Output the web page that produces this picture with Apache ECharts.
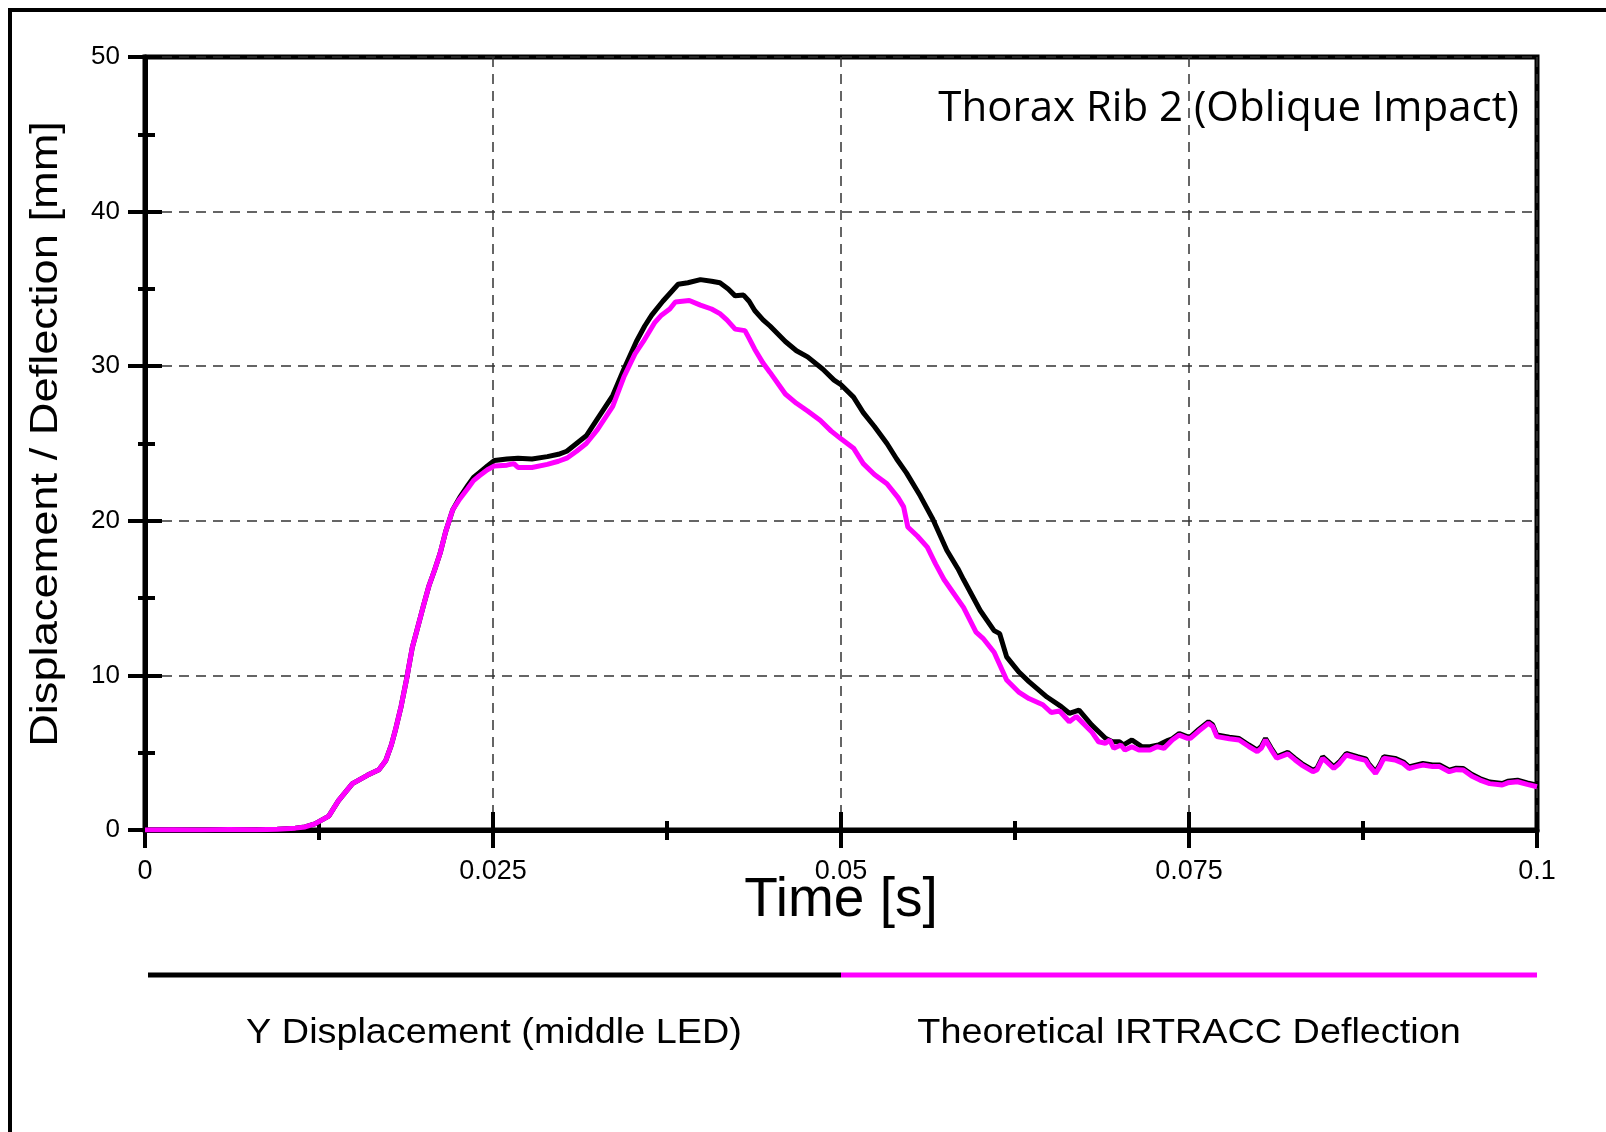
<!DOCTYPE html>
<html><head><meta charset="utf-8">
<script src="https://cdn.jsdelivr.net/npm/echarts@6/dist/echarts.min.js"></script>
<style>html,body{margin:0;padding:0;background:#fff}#c{width:1606px;height:1132px}</style>
</head><body><div id="c"></div><script>
const chartTitle = 'Thorax Rib 2 (Oblique Impact)';
const xTitle = 'Time [s]';
const yTitle = 'Displacement / Deflection [mm]';
const seriesNames = ['Y Displacement (middle LED)', 'Theoretical IRTRACC Deflection'];
const xTickValues = [0, 0.025, 0.05, 0.075, 0.1];
const yTickValues = [0, 10, 20, 30, 40, 50];

const yDisplacement = [
[0,0],[0.002,0.02],[0.004,0],[0.006,0.03],[0.008,0.02],[0.0095,0.05],[0.0108,0.12],[0.0115,0.2],[0.0122,0.4],[0.0132,0.9],[0.0139,1.9],[0.0149,3.0],[0.016,3.55],[0.0168,3.9],[0.0173,4.5],[0.0177,5.5],[0.018,6.5],[0.0184,8.0],[0.0188,9.8],[0.0192,11.8],[0.0195,12.8],[0.02,14.5],[0.0204,15.8],[0.0208,16.8],[0.0212,17.9],[0.0216,19.3],[0.0221,20.7],[0.0226,21.5],[0.0232,22.3],[0.0236,22.8],[0.024,23.1],[0.0246,23.55],[0.0251,23.9],[0.026,24.0],[0.0268,24.05],[0.0278,24.0],[0.0289,24.15],[0.0297,24.3],[0.0303,24.5],[0.031,25.0],[0.0317,25.5],[0.0325,26.6],[0.0336,28.1],[0.0344,29.8],[0.0353,31.6],[0.0359,32.6],[0.0364,33.3],[0.0372,34.2],[0.0378,34.8],[0.0383,35.3],[0.039,35.4],[0.0399,35.6],[0.0407,35.5],[0.0413,35.4],[0.0419,35.0],[0.0424,34.55],[0.043,34.6],[0.0434,34.2],[0.0438,33.6],[0.0444,33.0],[0.0449,32.6],[0.046,31.6],[0.0468,31.0],[0.0476,30.6],[0.0487,29.8],[0.0495,29.1],[0.05,28.8],[0.0509,28.0],[0.0516,27.0],[0.0524,26.1],[0.0533,25.0],[0.054,24.0],[0.0547,23.1],[0.0557,21.6],[0.0566,20.1],[0.0576,18.1],[0.0584,16.9],[0.0588,16.2],[0.06,14.2],[0.061,12.9],[0.0614,12.7],[0.0619,11.2],[0.0628,10.2],[0.0635,9.6],[0.0648,8.6],[0.0658,8.0],[0.0664,7.55],[0.0671,7.76],[0.068,6.8],[0.069,5.93],[0.0695,5.71],[0.07,5.71],[0.0703,5.5],[0.0709,5.82],[0.0716,5.39],[0.0722,5.39],[0.0728,5.5],[0.0735,5.8],[0.0738,5.9],[0.0743,6.24],[0.0749,6.03],[0.0751,6.03],[0.0757,6.5],[0.0764,7.0],[0.0767,6.8],[0.077,6.14],[0.0779,6.0],[0.0786,5.92],[0.0793,5.5],[0.0799,5.17],[0.0802,5.4],[0.0805,5.92],[0.0809,5.3],[0.0813,4.74],[0.0821,5.02],[0.0826,4.65],[0.0831,4.3],[0.0839,3.87],[0.0842,4.0],[0.0846,4.74],[0.0849,4.5],[0.0854,4.08],[0.0858,4.4],[0.0863,4.95],[0.0871,4.74],[0.0877,4.6],[0.0879,4.3],[0.0884,3.76],[0.0887,4.2],[0.089,4.74],[0.0898,4.63],[0.0904,4.4],[0.0908,4.08],[0.0913,4.2],[0.0918,4.3],[0.0925,4.2],[0.093,4.2],[0.0937,3.87],[0.0942,4.0],[0.0947,3.98],[0.0953,3.6],[0.0959,3.33],[0.0966,3.1],[0.0975,3.01],[0.0979,3.15],[0.0986,3.22],[0.0993,3.05],[0.1,2.9]
];

const irtraccDeflection = [
[0,0],[0.002,0.02],[0.004,0],[0.006,0.03],[0.008,0.02],[0.0095,0.05],[0.0108,0.12],[0.0115,0.2],[0.0122,0.4],[0.0132,0.9],[0.0139,1.9],[0.0149,3.0],[0.016,3.55],[0.0168,3.9],[0.0173,4.5],[0.0177,5.5],[0.018,6.5],[0.0184,8.0],[0.0188,9.8],[0.0192,11.8],[0.0195,12.8],[0.02,14.5],[0.0204,15.8],[0.0208,16.8],[0.0212,17.9],[0.0216,19.3],[0.0221,20.7],[0.0226,21.4],[0.0232,22.1],[0.0236,22.6],[0.024,22.9],[0.0246,23.3],[0.0251,23.55],[0.026,23.6],[0.0265,23.7],[0.0268,23.45],[0.0278,23.45],[0.0289,23.65],[0.0297,23.85],[0.0303,24.05],[0.031,24.5],[0.0317,25.0],[0.0325,25.9],[0.0336,27.4],[0.0344,29.3],[0.0352,30.8],[0.0358,31.6],[0.0366,32.8],[0.0371,33.3],[0.0377,33.7],[0.0381,34.15],[0.0391,34.25],[0.0399,33.95],[0.0407,33.7],[0.0413,33.4],[0.0418,33.0],[0.0424,32.4],[0.0431,32.3],[0.0434,31.8],[0.0438,31.1],[0.0444,30.2],[0.0449,29.6],[0.046,28.2],[0.0468,27.6],[0.0476,27.1],[0.0485,26.5],[0.0493,25.8],[0.05,25.3],[0.0509,24.7],[0.0516,23.7],[0.0524,23.0],[0.0533,22.4],[0.0541,21.5],[0.0545,20.9],[0.0548,19.6],[0.0555,19.0],[0.0562,18.3],[0.0568,17.2],[0.0574,16.2],[0.0581,15.3],[0.0588,14.4],[0.0597,12.8],[0.0602,12.4],[0.061,11.5],[0.0619,9.7],[0.0628,8.9],[0.0635,8.5],[0.0645,8.1],[0.0651,7.6],[0.0657,7.7],[0.0664,7.0],[0.0669,7.35],[0.068,6.36],[0.0685,5.71],[0.069,5.61],[0.0693,5.82],[0.0696,5.28],[0.0701,5.5],[0.0704,5.17],[0.0709,5.39],[0.0714,5.17],[0.0722,5.17],[0.0727,5.39],[0.0732,5.28],[0.0738,5.82],[0.0743,6.14],[0.0749,5.93],[0.0751,5.93],[0.0757,6.4],[0.0764,6.9],[0.0767,6.7],[0.077,6.04],[0.0779,5.9],[0.0786,5.82],[0.0793,5.4],[0.0799,5.07],[0.0802,5.3],[0.0805,5.82],[0.0809,5.2],[0.0813,4.64],[0.0821,4.92],[0.0826,4.55],[0.0831,4.2],[0.0839,3.77],[0.0842,3.9],[0.0846,4.64],[0.0849,4.4],[0.0854,3.98],[0.0858,4.3],[0.0863,4.85],[0.0871,4.64],[0.0877,4.5],[0.0879,4.2],[0.0884,3.66],[0.0887,4.1],[0.089,4.64],[0.0898,4.53],[0.0904,4.3],[0.0908,3.98],[0.0913,4.1],[0.0918,4.2],[0.0925,4.1],[0.093,4.1],[0.0937,3.77],[0.0942,3.9],[0.0947,3.88],[0.0953,3.5],[0.0959,3.23],[0.0966,3.0],[0.0975,2.91],[0.0979,3.05],[0.0986,3.12],[0.0993,2.95],[0.1,2.8]
];

const FONT = '"Liberation Sans", Arial, sans-serif';
const chart = echarts.init(document.getElementById('c'), null, {renderer: 'canvas'});

function xAxisBase(inside) {
  return {
    type: 'value', position: 'bottom',
    min: xTickValues[0], max: xTickValues[xTickValues.length - 1],
    interval: xTickValues[1] - xTickValues[0],
    axisLine: {show: !inside, onZero: false, lineStyle: {color: '#000', width: 5}},
    axisTick: {show: true, inside: inside, length: 18, lineStyle: {color: '#000', width: 4}},
    minorTick: {show: true, splitNumber: 2, length: inside ? 9 : 10, lineStyle: {color: '#000', width: 4}},
    splitLine: {show: !inside, lineStyle: {type: [10, 7], color: '#333', width: 1.5}},
    axisLabel: {show: !inside, margin: 28, fontSize: 27, color: '#000', fontFamily: FONT,
      formatter: v => String(+(+v).toFixed(3))},
    name: inside ? '' : xTitle, nameLocation: 'middle', nameGap: 43, nameMoveOverlap: false,
    nameTextStyle: {fontSize: 55, color: '#000', fontFamily: FONT}
  };
}
function yAxisBase(inside) {
  return {
    type: 'value', position: 'left',
    min: yTickValues[0], max: yTickValues[yTickValues.length - 1],
    interval: yTickValues[1] - yTickValues[0],
    axisLine: {show: !inside, onZero: false, lineStyle: {color: '#000', width: 5}},
    axisTick: {show: true, inside: inside, length: 17, lineStyle: {color: '#000', width: 4}},
    minorTick: {show: true, splitNumber: 2, length: inside ? 10 : 7, lineStyle: {color: '#000', width: 4}},
    splitLine: {show: !inside, lineStyle: {type: [10, 7], color: '#333', width: 1.5}},
    axisLabel: {show: !inside, margin: 25, fontSize: 26, color: '#000', fontFamily: FONT}
  };
}

const option = {
  animation: false,
  backgroundColor: '#fff',
  grid: {show: true, left: 145, right: 69, top: 57, bottom: 302, borderColor: '#000', borderWidth: 5,
    backgroundColor: 'transparent', containLabel: false, outerBoundsMode: 'none'},
  xAxis: [xAxisBase(false), xAxisBase(true)],
  yAxis: [yAxisBase(false), yAxisBase(true)],
  series: [
    {type: 'line', name: seriesNames[0], data: yDisplacement, showSymbol: false, symbol: 'none',
      lineStyle: {color: '#000', width: 5}, itemStyle: {color: '#000'}, xAxisIndex: 0, yAxisIndex: 0},
    {type: 'line', name: seriesNames[1], data: irtraccDeflection, showSymbol: false, symbol: 'none',
      lineStyle: {color: '#ff00ff', width: 5}, itemStyle: {color: '#ff00ff'}, xAxisIndex: 0, yAxisIndex: 0}
  ],
  graphic: [
    {type: 'rect', silent: true, z: -10, shape: {x: 10, y: 10, width: 1700, height: 1300},
      style: {fill: 'none', stroke: '#000', lineWidth: 4}},
    {type: 'text', silent: true, x: 1519, y: 109,
      style: {text: chartTitle, font: '42px "Open Sans", sans-serif', fill: '#000',
        align: 'right', verticalAlign: 'middle', textAlign: 'right', textVerticalAlign: 'middle'}},
    {type: 'text', silent: true, x: 47, y: 434, rotation: Math.PI / 2, scaleX: 1.19,
      style: {text: yTitle, font: '38px ' + FONT, fill: '#000',
        align: 'center', verticalAlign: 'middle', textAlign: 'center', textVerticalAlign: 'middle'}},
    {type: 'line', silent: true, shape: {x1: 148, y1: 975, x2: 841, y2: 975},
      style: {stroke: '#000', lineWidth: 5}},
    {type: 'line', silent: true, shape: {x1: 841, y1: 975, x2: 1537, y2: 975},
      style: {stroke: '#ff00ff', lineWidth: 5}},
    {type: 'text', silent: true, x: 494, y: 1033, scaleX: 1.08,
      style: {text: seriesNames[0], font: '35px ' + FONT, fill: '#000',
        align: 'center', verticalAlign: 'middle', textAlign: 'center', textVerticalAlign: 'middle'}},
    {type: 'text', silent: true, x: 1189, y: 1033, scaleX: 1.08,
      style: {text: seriesNames[1], font: '35px ' + FONT, fill: '#000',
        align: 'center', verticalAlign: 'middle', textAlign: 'center', textVerticalAlign: 'middle'}}
  ]
};
chart.setOption(option);
</script></body></html>
